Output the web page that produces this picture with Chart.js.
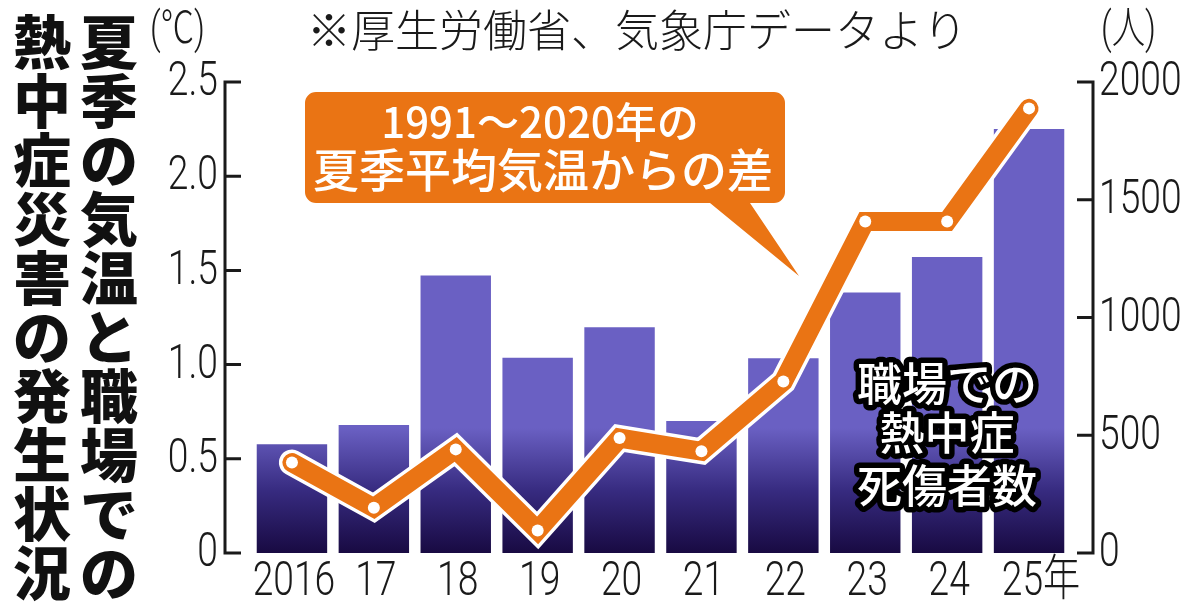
<!DOCTYPE html>
<html lang="ja">
<head>
<meta charset="utf-8">
<title>夏季の気温と職場での熱中症災害の発生状況</title>
<script src="https://cdn.jsdelivr.net/npm/chart.js@4.4.1/dist/chart.umd.min.js"></script>
<style>
  html, body { margin: 0; padding: 0; background: #fff; }
  #wrap { width: 1200px; height: 613px; }
</style>
</head>
<body>
<div id="wrap"><canvas id="chart" width="1200" height="613"></canvas></div>
<script>
// Data
const years = ['2016', '17', '18', '19', '20', '21', '22', '23', '24', '25年'];
const casualties = [462, 544, 1178, 829, 959, 561, 827, 1106, 1257, 1800];   // 人
const tempDiff = [0.48, 0.24, 0.55, 0.12, 0.61, 0.54, 0.91, 1.76, 1.76, 2.36]; // ℃
const tempTicks = ['0', '0.5', '1.0', '1.5', '2.0', '2.5'];
const peopleTicks = ['0', '500', '1000', '1500', '2000'];

const titleCols = ['熱中症災害の発生状況', '夏季の気温と職場での'];
const sourceNote = '※厚生労働省、気象庁データより';
const calloutLines = ['1991～2020年の', '夏季平均気温からの差'];
const barLabelLines = ['職場での', '熱中症', '死傷者数'];

const ORANGE = '#ea7414';
const INK = '#1a1a1a';
const NUM_FONT = "Roboto, 'Noto Sans CJK JP', sans-serif";
const JP_FONT = "'Noto Sans CJK JP', sans-serif";

/**
 * Bar fill: dark navy at the baseline fading to flat purple
 */
function barGradient(context) {
    const area = context.chart.chartArea;
    if (!area) return '#6a60c3';
    const g = context.chart.ctx.createLinearGradient(0, area.bottom, 0, area.bottom - 125);
    g.addColorStop(0, '#180a42');
    g.addColorStop(0.5, '#372b80');
    g.addColorStop(1, '#6a60c3');
    return g;
}

/**
 * Condensed number text (the picture uses a tall narrow face)
 */
function narrowText(ctx, text, x, y, align) {
    ctx.save();
    ctx.translate(x, y);
    ctx.scale(0.76, 1);
    ctx.textAlign = align;
    ctx.textBaseline = 'middle';
    ctx.fillText(text, 0, 0);
    ctx.restore();
}

/**
 * Axis lines, tick labels, titles and notes drawn around the chart
 */
const decorPlugin = {
    id: 'decor',
    afterDraw(chart) {
        const ctx = chart.ctx;
        const area = chart.chartArea;
        const x = chart.scales.x;
        const yT = chart.scales.yT;
        const yP = chart.scales.yP;

        // axis lines with inward ticks
        ctx.save();
        ctx.strokeStyle = INK;
        ctx.lineWidth = 3;
        const leftX = area.left - 26;
        const rightX = area.right + 23;
        ctx.beginPath();
        ctx.moveTo(leftX, yT.getPixelForValue(2.5) - 1.5);
        ctx.lineTo(leftX, yT.getPixelForValue(0) + 1.5);
        ctx.moveTo(rightX, yP.getPixelForValue(2000) - 1.5);
        ctx.lineTo(rightX, yP.getPixelForValue(0) + 1.5);
        yT.ticks.forEach(t => {
            const y = yT.getPixelForValue(t.value);
            ctx.moveTo(leftX - 1.5, y);
            ctx.lineTo(leftX + 16, y);
        });
        yP.ticks.forEach(t => {
            const y = yP.getPixelForValue(t.value);
            ctx.moveTo(rightX + 1.5, y);
            ctx.lineTo(rightX - 16, y);
        });
        ctx.stroke();
        ctx.restore();

        // tick labels from the scales
        ctx.save();
        ctx.fillStyle = INK;
        ctx.font = '300 49px ' + NUM_FONT;
        yT.ticks.forEach((t, i) => {
            narrowText(ctx, tempTicks[i], 218, yT.getPixelForValue(t.value) + 1, 'right');
        });
        yP.ticks.forEach((t, i) => {
            narrowText(ctx, peopleTicks[i], 1099, yP.getPixelForValue(t.value) + 1, 'left');
        });
        years.forEach((label, i) => {
            narrowText(ctx, label, x.getPixelForTick(i) + (i === years.length - 1 ? 12 : 2), 583, 'center');
        });
        ctx.restore();

        // vertical title, two columns
        ctx.save();
        ctx.fillStyle = '#111';
        ctx.font = '900 58px ' + JP_FONT;
        ctx.textAlign = 'center';
        ctx.textBaseline = 'middle';
        const colX = [42, 109];
        titleCols.forEach((col, c) => {
            Array.from(col).forEach((ch, i) => {
                ctx.fillText(ch, colX[c], 42 + i * 59);
            });
        });
        ctx.restore();

        // units and source note
        ctx.save();
        ctx.fillStyle = INK;
        ctx.font = '300 44px ' + NUM_FONT;
        narrowText(ctx, '(℃)', 150, 32, 'left');
        narrowText(ctx, '(人)', 1101, 32, 'left');
        ctx.font = '300 44px ' + JP_FONT;
        ctx.textAlign = 'center';
        ctx.textBaseline = 'middle';
        ctx.fillText(sourceNote, 637, 30);
        ctx.restore();

        // callout bubble
        ctx.save();
        ctx.fillStyle = ORANGE;
        const bx = 305, by = 92, bw = 480, bh = 111, r = 11;
        ctx.beginPath();
        ctx.moveTo(bx + r, by);
        ctx.lineTo(bx + bw - r, by);
        ctx.arcTo(bx + bw, by, bx + bw, by + r, r);
        ctx.lineTo(bx + bw, by + bh - r);
        ctx.arcTo(bx + bw, by + bh, bx + bw - r, by + bh, r);
        ctx.lineTo(750, by + bh);
        ctx.lineTo(799, 276);
        ctx.lineTo(710, by + bh);
        ctx.lineTo(bx + r, by + bh);
        ctx.arcTo(bx, by + bh, bx, by + bh - r, r);
        ctx.lineTo(bx, by + r);
        ctx.arcTo(bx, by, bx + r, by, r);
        ctx.closePath();
        ctx.fill();
        ctx.fillStyle = '#fff';
        ctx.textAlign = 'center';
        ctx.textBaseline = 'middle';
        ctx.font = '500 42px ' + JP_FONT;
        ctx.fillText(calloutLines[0], 540, 122);
        ctx.font = '500 46px ' + JP_FONT;
        ctx.fillText(calloutLines[1], 543, 170);
        ctx.restore();

        // label over the bars: white text with a black halo
        ctx.save();
        ctx.font = '500 45px ' + JP_FONT;
        ctx.textAlign = 'center';
        ctx.textBaseline = 'middle';
        ctx.lineJoin = 'round';
        ctx.lineWidth = 11;
        ctx.strokeStyle = '#000';
        ctx.fillStyle = '#fff';
        const ly = [384, 433, 486];
        barLabelLines.forEach((t, i) => {
            ctx.strokeText(t, 947, ly[i]);
        });
        barLabelLines.forEach((t, i) => {
            ctx.fillText(t, 947, ly[i]);
        });
        ctx.restore();
    }
};

const chart = new Chart(document.getElementById('chart'), {
    data: {
        labels: years,
        datasets: [
            {
                type: 'line',
                label: '気温差',
                data: tempDiff,
                yAxisID: 'yT',
                borderColor: ORANGE,
                borderWidth: 19,
                borderCapStyle: 'round',
                borderJoinStyle: 'miter',
                pointRadius: 6,
                pointBackgroundColor: '#fff',
                pointBorderWidth: 0,
                pointHoverRadius: 6,
                tension: 0,
                order: 1
            },
            {
                type: 'line',
                label: 'outline',
                data: tempDiff,
                yAxisID: 'yT',
                borderColor: '#fff',
                borderWidth: 26,
                borderCapStyle: 'round',
                borderJoinStyle: 'miter',
                pointRadius: 0,
                tension: 0,
                order: 2
            },
            {
                type: 'bar',
                label: '死傷者数',
                data: casualties,
                yAxisID: 'yP',
                backgroundColor: barGradient,
                borderWidth: 0,
                barPercentage: 0.86,
                categoryPercentage: 1,
                order: 3
            }
        ]
    },
    options: {
        responsive: false,
        devicePixelRatio: 1,
        animation: false,
        events: [],
        layout: {
            padding: { top: 82, bottom: 0, left: 0, right: 0 }
        },
        plugins: {
            legend: { display: false },
            tooltip: { enabled: false }
        },
        scales: {
            x: {
                offset: true,
                grid: { display: false, drawTicks: false },
                border: { display: false },
                afterFit: s => { s.height = 60; },
                ticks: { display: false, autoSkip: false }
            },
            yT: {
                position: 'left',
                min: 0,
                max: 2.5,
                grid: { display: false, drawTicks: false },
                border: { display: false },
                afterFit: s => { s.width = 251; },
                ticks: { display: false, stepSize: 0.5 }
            },
            yP: {
                position: 'right',
                min: 0,
                max: 2000,
                grid: { display: false, drawTicks: false },
                border: { display: false },
                afterFit: s => { s.width = 130; },
                ticks: { display: false, stepSize: 500 }
            }
        }
    },
    plugins: [decorPlugin]
});
</script>
</body>
</html>
